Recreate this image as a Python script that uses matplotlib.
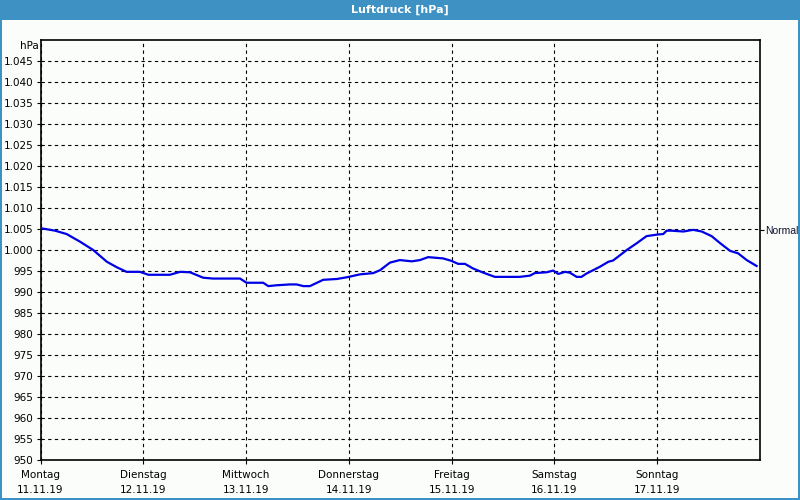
import matplotlib
matplotlib.use("Agg")
import matplotlib.pyplot as plt
from matplotlib.patches import Rectangle

# ---- data ----
title = "Luftdruck [hPa]"
day_names = ["Montag", "Dienstag", "Mittwoch", "Donnerstag", "Freitag", "Samstag", "Sonntag"]
day_dates = ["11.11.19", "12.11.19", "13.11.19", "14.11.19", "15.11.19", "16.11.19", "17.11.19"]
hours = [0.0, 3.4, 6.1, 9.2, 12.3, 15.5, 17.8, 20.1, 23.2, 25.2, 30.2, 32.6, 34.9, 38.0,
         40.3, 46.6, 48.1, 52.0, 53.2, 55.1, 58.2, 59.8, 61.4, 62.9, 66.0, 69.2, 71.5,
         74.6, 77.7, 79.3, 81.6, 83.9, 86.7, 88.6, 90.5, 94.0, 96.0, 97.5, 99.1, 101.0,
         103.4, 106.1, 111.9, 114.3, 115.4, 118.2, 119.7, 120.9, 122.5, 123.6, 125.2,
         126.3, 127.5, 130.6, 132.6, 133.7, 136.9, 139.2, 141.5, 144.2, 145.4, 146.2,
         147.4, 150.1, 152.4, 154.4, 156.7, 158.6, 161.0, 162.9, 164.9, 167.2]
pressure = [1005.2, 1004.6, 1003.8, 1002.0, 1000.0, 997.2, 995.9, 994.8, 994.8, 994.1,
            994.1, 994.8, 994.7, 993.4, 993.2, 993.2, 992.2, 992.2, 991.4, 991.6, 991.8,
            991.8, 991.4, 991.4, 992.9, 993.1, 993.5, 994.2, 994.5, 995.2, 997.0, 997.6,
            997.3, 997.6, 998.3, 998.0, 997.4, 996.7, 996.7, 995.6, 994.6, 993.6, 993.6,
            993.9, 994.5, 994.7, 995.1, 994.3, 994.8, 994.6, 993.6, 993.6, 994.4, 996.0,
            997.2, 997.5, 1000.0, 1001.6, 1003.3, 1003.7, 1003.8, 1004.6, 1004.6, 1004.4,
            1004.8, 1004.4, 1003.3, 1001.7, 999.8, 999.2, 997.6, 996.2]
normal_value = 1004.7
y_ticks = [950, 955, 960, 965, 970, 975, 980, 985, 990, 995, 1000, 1005, 1010, 1015,
           1020, 1025, 1030, 1035, 1040, 1045]

BLUE = "#3d91c3"
BG = "#fafdfa"
FONT = "DejaVu Sans"
FS = 7.5

fig = plt.figure(figsize=(8, 5), dpi=100, facecolor=BG)

# title bar and frame
fig.patches.append(Rectangle((0, 1 - 20 / 500), 1, 20 / 500, transform=fig.transFigure,
                             facecolor=BLUE, edgecolor="none", zorder=0))
fig.patches.append(Rectangle((0, 0), 1.5 / 800, 1, transform=fig.transFigure,
                             facecolor=BLUE, edgecolor="none"))
fig.patches.append(Rectangle((1 - 2 / 800, 0), 2 / 800, 1, transform=fig.transFigure,
                             facecolor=BLUE, edgecolor="none"))
fig.patches.append(Rectangle((0, 0), 1, 2 / 500, transform=fig.transFigure,
                             facecolor=BLUE, edgecolor="none"))
fig.text(0.5, 1 - 10 / 500, title, color="white", fontweight="bold", fontsize=8,
         family=FONT, ha="center", va="center")

ax = fig.add_axes([40.5 / 800, 40 / 500, 719.5 / 800, 420 / 500])
ax.set_facecolor(BG)

days = [h / 24 for h in hours]
ax.plot(days, pressure, color="#0000e6", linewidth=1.6, solid_joinstyle="round", zorder=3)

ax.set_xlim(0, 7)
ax.set_ylim(950, 1050)
ax.set_yticks(y_ticks)
ax.set_yticklabels([f"{v:,}".replace(",", ".") for v in y_ticks], fontsize=FS, family=FONT)
ax.set_xticks(range(len(day_names)))
ax.set_xticklabels([f"{n}\n{d}" for n, d in zip(day_names, day_dates)], fontsize=FS,
                   family=FONT, linespacing=1.6)
ax.tick_params(axis="both", direction="out", length=3, width=0.8, color="black", pad=2)
ax.tick_params(axis="x", pad=4)

ax.grid(True, color="black", linestyle=(0, (3, 3)), linewidth=0.8)
for sp in ax.spines.values():
    sp.set_linewidth(1.2)
    sp.set_color("black")

ax.text(-0.003, 1048.5, "hPa", transform=ax.get_yaxis_transform(), ha="right",
        va="center", fontsize=FS, family=FONT)

# Normal marker on right side
ax2 = ax.twinx()
ax2.set_ylim(950, 1050)
ax2.set_yticks([normal_value])
ax2.set_yticklabels(["Normal"], fontsize=7.5, family="Liberation Sans", color="#101030")
ax2.tick_params(axis="y", direction="out", length=3, width=0.8, pad=0.5)
for sp in ax2.spines.values():
    sp.set_visible(False)

fig.savefig("out.png", dpi=100, facecolor=BG)
